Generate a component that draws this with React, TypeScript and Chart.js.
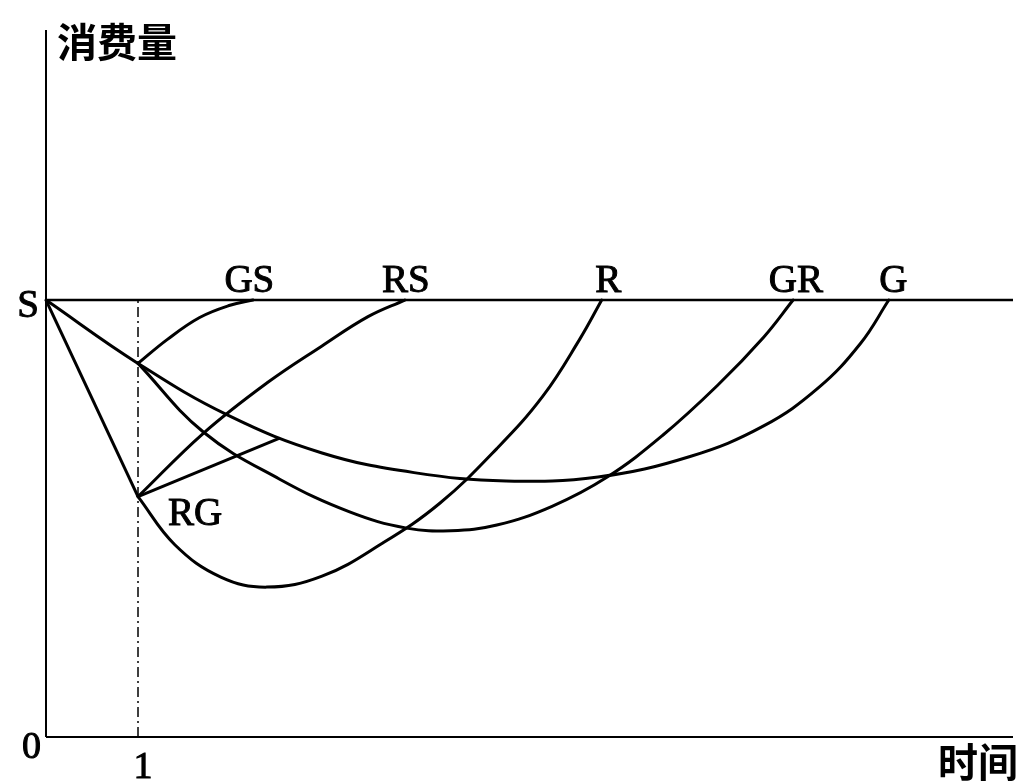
import React, { useEffect, useRef } from "react";
import { Chart, registerables } from "chart.js";

Chart.register(...registerables);

// axis extents (x: time units, y: consumption units)
const X_MAX = 10.51;
const Y_MAX = 16.18;
const S_LEVEL = 10;
const T1 = 1;

// RG point on t = 1
const RG_Y = 5.5;

// G curve: S -> A -> minimum -> G
const gX = [0, 1, 1.97, 3.0, 4.0, 5.0, 6.0, 7.0, 7.8, 8.4, 8.85, 9.16];
const gY = [10, 8.55, 7.37, 6.5, 6.05, 5.86, 5.95, 6.42, 7.12, 8.0, 9.0, 10];

// GR curve: A -> minimum -> GR
const grX = [1, 1.71, 2.54, 3.3, 3.92, 4.4, 4.9, 5.5, 6.1, 6.7, 7.3, 7.8, 8.12];
const grY = [8.55, 6.98, 5.9, 5.15, 4.78, 4.72, 4.85, 5.28, 5.95, 6.9, 8.05, 9.15, 10];

// GS curve: A -> GS
const gsX = [1, 1.32, 1.67, 2.0, 2.25];
const gsY = [8.55, 9.1, 9.6, 9.88, 10];

// S -> RG line
const sRgX = [0, 1];
const sRgY = [10, 5.5];

// R curve: RG -> minimum -> R
const rX = [1, 1.4, 1.9, 2.4, 3.0, 3.66, 4.28, 4.9, 5.4, 5.8, 6.04];
const rY = [5.5, 4.4, 3.66, 3.43, 3.68, 4.44, 5.35, 6.6, 7.8, 9.1, 10];

// RS curve: RG -> RS
const rsX = [1, 1.71, 2.4, 3.0, 3.5, 3.9];
const rsY = [5.5, 6.95, 8.1, 8.95, 9.62, 10];

// short RG -> G-curve segment
const rgShortX = [1, 2.54];
const rgShortY = [5.5, 6.84];

// end labels on the S level
const endLabels = ["GS", "RS", "R", "GR", "G"];
const endLabelX = [2.21, 3.91, 6.11, 8.15, 9.21];

const yAxisTitle = "消费量";
const xAxisTitle = "时间";
const tickLabels = ["0", "1"];

const pts = (xs: number[], ys: number[]) => xs.map((x, i) => ({ x, y: ys[i] }));

const curve = (xs: number[], ys: number[], width = 3) => ({
  data: pts(xs, ys),
  showLine: true,
  borderColor: "#000",
  borderWidth: width,
  pointRadius: 0,
  tension: 0.4,
  borderCapStyle: "round" as const,
  clip: false as any,
});

const straight = (xs: number[], ys: number[], width = 3, dash: number[] = []) => ({
  data: pts(xs, ys),
  showLine: true,
  borderColor: "#000",
  borderWidth: width,
  borderDash: dash,
  pointRadius: 0,
  tension: 0,
  clip: false as any,
});

const textPlugin = {
  id: "textPlugin",
  afterDatasetsDraw(chart: any) {
    const { ctx, scales } = chart;
    const x = scales.x;
    const y = scales.y;
    ctx.save();
    ctx.fillStyle = "#000";
    ctx.strokeStyle = "#000";
    ctx.lineWidth = 1;
    const put = (t: string, px: number, py: number) => {
      ctx.fillText(t, px, py);
      ctx.strokeText(t, px, py);
    };
    ctx.font = '39px "Liberation Serif", serif';
    ctx.textAlign = "center";
    ctx.textBaseline = "alphabetic";
    const sPix = y.getPixelForValue(S_LEVEL);
    endLabels.forEach((t, i) => {
      put(t, x.getPixelForValue(endLabelX[i]), sPix - 8);
    });
    // S
    ctx.textAlign = "right";
    put("S", x.getPixelForValue(0) - 7, sPix + 17);
    // RG
    ctx.textAlign = "left";
    put("RG", x.getPixelForValue(T1) + 30, y.getPixelForValue(RG_Y) + 28);
    // ticks
    ctx.font = '38px "Liberation Serif", serif';
    ctx.textAlign = "right";
    put(tickLabels[0], x.getPixelForValue(0) - 5, y.getPixelForValue(0) + 21);
    ctx.textAlign = "center";
    put(tickLabels[1], x.getPixelForValue(T1) + 5, y.getPixelForValue(0) + 41);
    // axis titles
    ctx.font = 'bold 40px "Noto Sans CJK SC", sans-serif';
    ctx.textAlign = "left";
    ctx.textBaseline = "middle";
    ctx.fillText(yAxisTitle, x.getPixelForValue(0) + 11, y.getPixelForValue(Y_MAX) + 12);
    ctx.fillText(xAxisTitle, x.getPixelForValue(X_MAX) - 75, y.getPixelForValue(0) + 25);
    ctx.restore();
  },
};

export default function App() {
  const ref = useRef<HTMLCanvasElement>(null);
  useEffect(() => {
    if (!ref.current) return;
    const chart = new Chart(ref.current, {
      type: "scatter",
      data: {
        datasets: [
          // axes
          straight([0, 0], [0, Y_MAX], 2),
          straight([0, X_MAX], [0, 0], 2),
          // S level line
          straight([0, X_MAX], [S_LEVEL, S_LEVEL], 2.5),
          // dashed t = 1
          straight([T1, T1], [0, S_LEVEL], 1.5, [10, 4, 2, 4]),
          curve(gX, gY),
          curve(grX, grY),
          curve(gsX, gsY),
          straight(sRgX, sRgY),
          curve(rX, rY),
          curve(rsX, rsY),
          straight(rgShortX, rgShortY),
        ] as any,
      },
      options: {
        responsive: false,
        animation: false,
        devicePixelRatio: 1,
        layout: { padding: { left: 46, right: 4, top: 30, bottom: 44 } },
        plugins: { legend: { display: false }, tooltip: { enabled: false } },
        scales: {
          x: { type: "linear", min: 0, max: X_MAX, display: false },
          y: { type: "linear", min: 0, max: Y_MAX, display: false },
        },
      },
      plugins: [textPlugin],
    });
    return () => chart.destroy();
  }, []);
  return (
    <canvas
      ref={ref}
      width={1017}
      height={781}
      style={{ position: "fixed", left: 0, top: 0, width: 1017, height: 781 }}
    />
  );
}
